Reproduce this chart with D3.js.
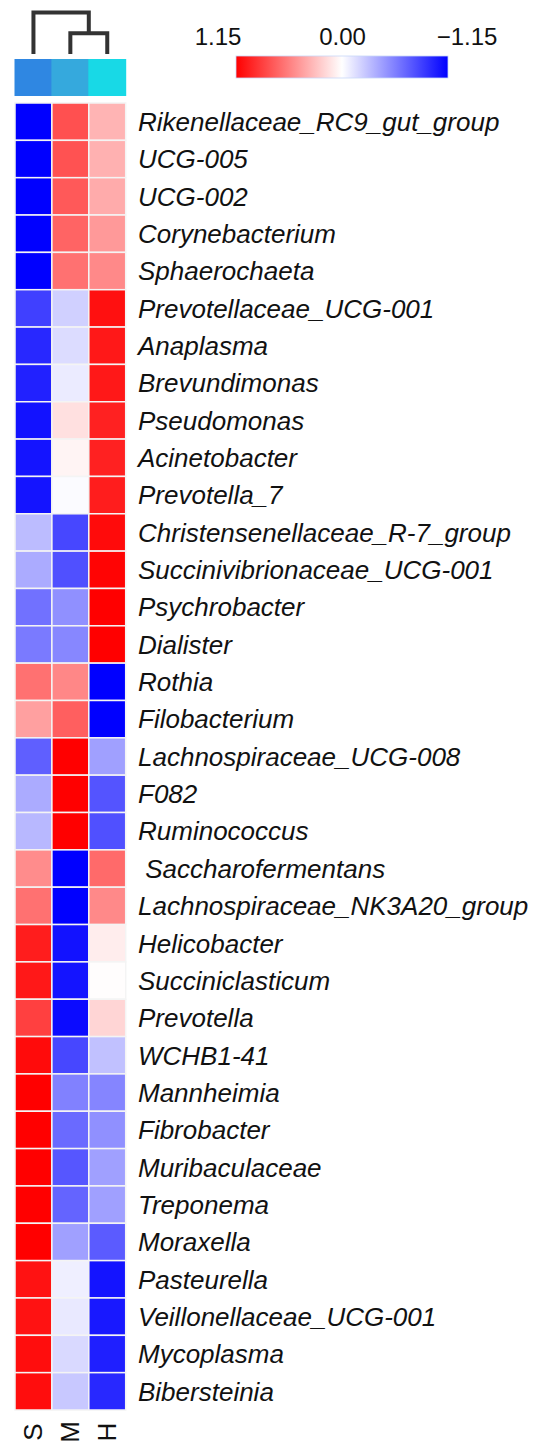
<!DOCTYPE html>
<html><head><meta charset="utf-8">
<script src="https://cdn.jsdelivr.net/npm/d3@7"></script>
<style>body{margin:0;background:#fff}svg{display:block}</style>
</head><body>
<script>
const genera = ["Rikenellaceae_RC9_gut_group","UCG-005","UCG-002","Corynebacterium","Sphaerochaeta","Prevotellaceae_UCG-001","Anaplasma","Brevundimonas","Pseudomonas","Acinetobacter","Prevotella_7","Christensenellaceae_R-7_group","Succinivibrionaceae_UCG-001","Psychrobacter","Dialister","Rothia","Filobacterium","Lachnospiraceae_UCG-008","F082","Ruminococcus"," Saccharofermentans","Lachnospiraceae_NK3A20_group","Helicobacter","Succiniclasticum","Prevotella","WCHB1-41","Mannheimia","Fibrobacter","Muribaculaceae","Treponema","Moraxella","Pasteurella","Veillonellaceae_UCG-001","Mycoplasma","Bibersteinia"];
const groups = ["S","M","H"];
const groupColors = ["#2f87e2","#35a9dd","#18d9e6"];
const valuesS = [-1.15,-1.15,-1.15,-1.15,-1.15,-0.86,-0.97,-1.0,-1.07,-1.06,-1.06,-0.30,-0.38,-0.64,-0.60,0.64,0.43,-0.72,-0.38,-0.32,0.52,0.64,1.02,1.04,0.86,1.10,1.15,1.15,1.15,1.15,1.15,1.07,1.07,1.09,1.09];
const valuesM = [0.79,0.78,0.75,0.70,0.64,-0.21,-0.16,-0.09,0.14,0.05,-0.02,-0.83,-0.79,-0.50,-0.54,0.54,0.72,1.15,1.15,1.15,-1.15,-1.15,-1.07,-1.06,-1.10,-0.83,-0.57,-0.67,-0.76,-0.70,-0.43,-0.07,-0.10,-0.17,-0.25];
const valuesH = [0.34,0.35,0.38,0.46,0.53,1.08,1.04,1.04,1.0,1.0,1.02,1.10,1.13,1.15,1.15,-1.15,-1.15,-0.43,-0.77,-0.79,0.67,0.53,0.08,0.01,0.19,-0.28,-0.55,-0.50,-0.43,-0.43,-0.74,-1.06,-1.04,-1.01,-0.97];
const legendTicks = [1.15, 0, -1.15];
const legendTickLabels = ["1.15","0.00","\u22121.15"];
// dendrogram merges: [left, right, height]
const dendroMerges = [{a:1,b:2,h:1},{a:0,b:"m0",h:2}];

const W=541,H=1453;
const svg=d3.select("body").append("svg").attr("width",W).attr("height",H);
const x=d3.scaleBand().domain(groups).range([15,125.7]).padding(0);
const y=d3.scaleBand().domain(genera).range([103,1410]).padding(0);
const color=d3.scaleLinear().domain([-1.15,0,1.15]).range(["#0000ff","#ffffff","#ff0000"]).clamp(true);
const cols=[valuesS,valuesM,valuesH];

const cells=[];
genera.forEach((g,i)=>groups.forEach((c,j)=>cells.push({g,c,v:cols[j][i]})));
svg.append("g").selectAll("rect").data(cells).join("rect")
  .attr("x",d=>x(d.c)).attr("y",d=>y(d.g))
  .attr("width",x.bandwidth()).attr("height",y.bandwidth())
  .attr("fill",d=>color(d.v)).attr("stroke","#f4f4f4").attr("stroke-width",1.5);

// annotation
svg.append("g").selectAll("rect").data(groups).join("rect")
  .attr("x",d=>x(d)-0.5).attr("y",59).attr("width",x.bandwidth()+1).attr("height",37)
  .attr("fill",(d,i)=>groupColors[i]);

// dendrogram
const hy=d3.scaleLinear().domain([0,2]).range([54,12.5]);
const pos={};
groups.forEach((g,i)=>pos[i]={x:x(g)+x.bandwidth()/2,h:0});
const dg=svg.append("g").attr("fill","none").attr("stroke","#333").attr("stroke-width",4).attr("stroke-linecap","butt");
dendroMerges.forEach((m,k)=>{
  const A=pos[m.a], B=pos[m.b];
  const yy=hy(m.h);
  dg.append("path").attr("d",`M${A.x},${hy(A.h)}V${yy}H${B.x}V${hy(B.h)}`).attr("stroke-linejoin","miter");
  pos["m"+k]={x:(A.x+B.x)/2,h:m.h};
});

// row labels
svg.append("g").selectAll("text").data(genera).join("text")
  .attr("x",138).attr("y",d=>y(d)+y.bandwidth()/2+9.3)
  .attr("font-family","Liberation Sans, Arial, sans-serif").attr("font-style","italic")
  .attr("font-size",26).attr("fill","#111").attr("xml:space","preserve").text(d=>d);

// column labels
svg.append("g").selectAll("text").data(groups).join("text")
  .attr("transform",d=>`translate(${x(d)+x.bandwidth()/2},1432) rotate(-90)`)
  .attr("text-anchor","middle").attr("dominant-baseline","central")
  .attr("font-family","Liberation Sans, Arial, sans-serif").attr("font-size",26).attr("fill","#111").text(d=>d);

// legend
const defs=svg.append("defs");
const grad=defs.append("linearGradient").attr("id","lg").attr("x1","0%").attr("x2","100%");
d3.range(0,1.0001,0.1).forEach(t=>{
  grad.append("stop").attr("offset",(t*100)+"%").attr("stop-color",color(1.15-2.3*t));
});
const lx=d3.scaleLinear().domain([1.15,-1.15]).range([236,448]);
svg.append("rect").attr("x",lx(1.15)).attr("y",56).attr("width",lx(-1.15)-lx(1.15)).attr("height",22)
  .attr("fill","url(#lg)").attr("stroke","#c8d8f8").attr("stroke-width",0.8);
const tl=d3.scaleLinear().domain([1.15,-1.15]).range([218,467]);
svg.append("g").selectAll("text").data(legendTicks).join("text")
  .attr("x",d=>tl(d)).attr("y",45).attr("text-anchor","middle")
  .attr("font-family","Liberation Sans, Arial, sans-serif").attr("font-size",24).attr("fill","#111")
  .text((d,i)=>legendTickLabels[i]);
</script>
</body></html>
